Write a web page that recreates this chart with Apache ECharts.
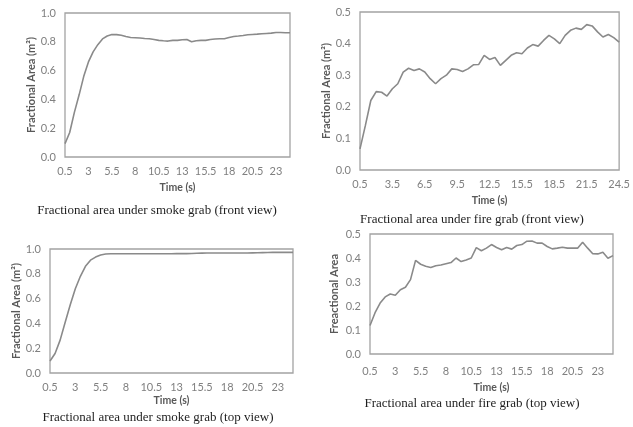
<!DOCTYPE html>
<html>
<head>
<meta charset="utf-8">
<script src="https://cdn.jsdelivr.net/npm/echarts@6/dist/echarts.min.js"></script>
<style>
html,body{margin:0;padding:0;background:#fff;}
#chart{width:633px;height:427px;}
</style>
</head>
<body>
<div id="chart"></div>
<script>
// Time categories (s)
var times = ['0.5','1','1.5','2','2.5','3','3.5','4','4.5','5','5.5','6','6.5','7','7.5','8','8.5','9','9.5','10',
  '10.5','11','11.5','12','12.5','13','13.5','14','14.5','15','15.5','16','16.5','17','17.5','18','18.5','19','19.5','20',
  '20.5','21','21.5','22','22.5','23','23.5','24','24.5'];

// Fractional area under smoke grab (front view)
var smokeFront = [0.093,0.17,0.31,0.43,0.56,0.66,0.73,0.78,0.82,0.84,0.85,0.85,0.845,0.837,0.83,0.828,0.826,0.823,0.821,0.816,
  0.81,0.807,0.805,0.81,0.81,0.814,0.816,0.80,0.807,0.81,0.81,0.816,0.819,0.821,0.821,0.83,0.837,0.84,0.844,0.849,
  0.851,0.853,0.856,0.858,0.86,0.865,0.865,0.863,0.863];

// Fractional area under fire grab (front view)
var fireFront = [0.067,0.141,0.22,0.248,0.246,0.234,0.257,0.273,0.31,0.322,0.315,0.32,0.31,0.289,0.273,0.289,0.30,0.32,0.318,0.312,
  0.32,0.333,0.334,0.363,0.35,0.356,0.331,0.347,0.363,0.371,0.368,0.386,0.397,0.392,0.41,0.426,0.415,0.40,0.426,0.442,
  0.449,0.445,0.46,0.456,0.437,0.421,0.429,0.419,0.405];

// Fractional area under smoke grab (top view)
var smokeTop = [0.097,0.157,0.265,0.41,0.55,0.68,0.78,0.86,0.91,0.935,0.952,0.96,0.962,0.962,0.962,0.962,0.962,0.962,0.962,0.962,
  0.962,0.962,0.962,0.962,0.962,0.963,0.963,0.963,0.964,0.966,0.967,0.968,0.968,0.968,0.968,0.968,0.968,0.968,0.968,0.968,
  0.969,0.97,0.971,0.972,0.973,0.973,0.973,0.973,0.973];

// Fractional area under fire grab (top view)
var fireTop = [0.119,0.172,0.212,0.238,0.25,0.245,0.268,0.278,0.31,0.39,0.374,0.366,0.36,0.368,0.371,0.376,0.381,0.40,0.385,0.392,
  0.40,0.443,0.43,0.441,0.456,0.444,0.434,0.444,0.437,0.452,0.456,0.47,0.471,0.462,0.462,0.448,0.438,0.441,0.445,0.441,
  0.441,0.441,0.466,0.441,0.418,0.417,0.424,0.399,0.41];

var xName = 'Time (s)';
var yNames = ['Fractional Area (m\u00B2)','Fractional Area (m\u00B2)','Fractional Area (m\u00B2)','Freactional Area'];
var captions = ['Fractional area under smoke grab (front view)','Fractional area under fire grab (front view)',
  'Fractional area under smoke grab (top view)','Fractional area under fire grab (top view)'];

var grids = [
  {left:65, top:13, width:225, height:144},
  {left:360, top:12, width:260, height:158},
  {left:50, top:249, width:243, height:124},
  {left:370, top:234, width:243, height:120}
];
var xLabelInterval = [4,5,4,4];
var xLabelMargin = [9,9,9,12];
var xNameGap = [25,25,22,28];
var yMax = [1,0.5,1,0.5];
var yStep = [0.2,0.1,0.2,0.1];
var yNameGap = [26,28,25,30];
var seriesData = [smokeFront, fireFront, smokeTop, fireTop];
var captionPos = [[157,211],[472,220],[158,418],[472,404]];

var sans = 'Lato, "Open Sans", sans-serif';
var option = {
  animation:false,
  backgroundColor:'#ffffff',
  grid: grids.map(function(g){return Object.assign({show:true, borderColor:'#a3a3a3', borderWidth:1.3, backgroundColor:'transparent'}, g);}),
  xAxis: grids.map(function(g,i){return {
    type:'category', gridIndex:i, data:times, boundaryGap:false,
    axisLine:{show:false}, axisTick:{show:false}, splitLine:{show:false},
    axisLabel:{interval:xLabelInterval[i], color:'#808080', fontFamily:sans, fontSize:11, margin:xLabelMargin[i]},
    name:xName, nameLocation:'middle', nameGap:xNameGap[i],
    nameTextStyle:{color:'#595959', fontFamily:sans, fontSize:10.5, fontWeight:'bold'}
  };}),
  yAxis: grids.map(function(g,i){return {
    type:'value', gridIndex:i, min:0, max:yMax[i], interval:yStep[i],
    axisLine:{show:false}, axisTick:{show:false}, splitLine:{show:false},
    axisLabel:{color:'#808080', fontFamily:sans, fontSize:11, margin:9, formatter:function(v){return v.toFixed(1);}},
    name:yNames[i], nameLocation:'middle', nameGap:yNameGap[i], nameRotate:90,
    nameTextStyle:{color:'#595959', fontFamily:sans, fontSize:11, fontWeight:'bold'}
  };}),
  series: seriesData.map(function(d,i){return {
    type:'line', xAxisIndex:i, yAxisIndex:i, data:d, showSymbol:false, smooth:false,
    lineStyle:{color:'#8a8a8a', width:1.6}
  };}),
  graphic: captions.map(function(c,i){return {
    type:'text', x:captionPos[i][0], y:captionPos[i][1],
    style:{text:c, fill:'#1e1e1e', font:'13px "Liberation Serif", "Times New Roman", serif', align:'center', verticalAlign:'middle'}
  };})
};
var chart = echarts.init(document.getElementById('chart'));
chart.setOption(option);
</script>
</body>
</html>
